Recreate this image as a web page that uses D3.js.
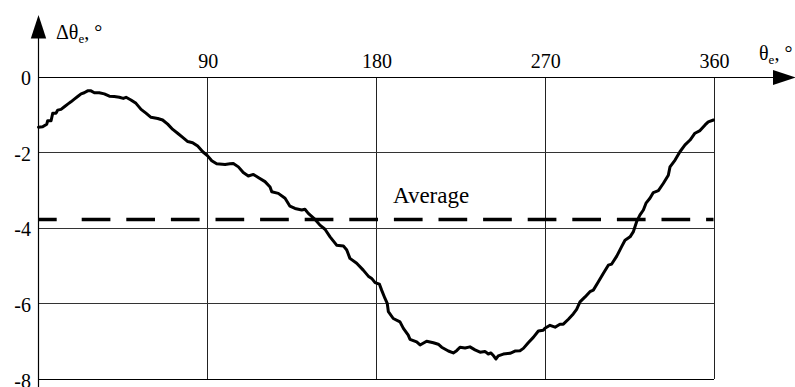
<!DOCTYPE html>
<html>
<head>
<meta charset="utf-8">
<script src="https://cdn.jsdelivr.net/npm/d3@7"></script>
<style>
  html, body { margin: 0; padding: 0; background: #fff; }
  svg { display: block; }
</style>
</head>
<body>
<svg id="chart" width="795" height="387"></svg>
<script>
// Electrical angle error over one electrical period
const thetaDeg = [0, 2.2, 4.4, 4.9, 6.7, 7.6, 9.3, 10.2, 12.0, 13.8, 15.6, 17.3, 19.1, 20.9, 22.7, 24.4, 26.2, 28.0, 29.8, 32.4,
  35.1, 37.8, 40.4, 43.1, 45.2, 46.7, 49.3, 52.0, 54.7, 57.3, 60.0, 63.6, 66.2, 68.9, 71.6, 74.2, 76.9, 79.6, 82.2, 84.9,
  87.6, 90.2, 92.4, 95.0, 99.5, 102.1, 103.9, 106.6, 109.2, 111.9, 114.6, 117.2, 120.8, 123.5, 124.4, 127.9, 131.5, 134.1, 136.8, 140.4,
  142.1, 143.9, 147.5, 150.1, 152.8, 155.5, 159.0, 162.6, 164.4, 166.1, 169.7, 173.2, 175.9, 177.7, 179.5, 181.8, 183.0, 184.8, 186.0, 186.6,
  189.2, 192.8, 194.6, 197.2, 198.1, 201.7, 203.5, 207.0, 210.6, 213.2, 215.0, 218.6, 221.2, 223.0, 224.8, 227.5, 230.1, 232.8, 235.5, 238.1,
  239.9, 241.2, 242.6, 244.0, 245.2, 247.9, 251.5, 254.1, 256.8, 258.6, 261.2, 263.9, 266.6, 269.2, 270.1, 272.8, 275.5, 278.1, 279.9, 282.6,
  285.2, 287.0, 288.8, 291.5, 294.1, 295.9, 298.6, 301.2, 303.9, 305.7, 308.4, 311.0, 312.8, 315.5, 317.2, 319.0, 320.8, 322.6, 324.0, 326.1,
  327.9, 330.6, 333.2, 335.9, 336.8, 339.5, 342.1, 344.8, 347.5, 350.1, 352.8, 355.5, 357.2, 360];
const deltaDeg = [-1.34, -1.33, -1.26, -1.17, -1.17, -0.97, -0.97, -0.89, -0.87, -0.80, -0.73, -0.67, -0.60, -0.53, -0.46, -0.43, -0.38, -0.38, -0.43, -0.43,
  -0.46, -0.52, -0.53, -0.55, -0.58, -0.55, -0.62, -0.71, -0.87, -0.97, -1.08, -1.11, -1.15, -1.26, -1.40, -1.50, -1.61, -1.72, -1.75, -1.84,
  -1.99, -2.10, -2.23, -2.31, -2.33, -2.31, -2.30, -2.39, -2.54, -2.63, -2.59, -2.67, -2.78, -2.92, -3.05, -3.09, -3.22, -3.43, -3.49, -3.53,
  -3.51, -3.62, -3.78, -3.93, -4.04, -4.24, -4.46, -4.48, -4.59, -4.81, -4.94, -5.12, -5.28, -5.34, -5.45, -5.49, -5.65, -5.87, -6.00, -6.22,
  -6.40, -6.49, -6.66, -6.84, -6.95, -7.02, -7.10, -7.00, -7.04, -7.08, -7.16, -7.26, -7.31, -7.25, -7.16, -7.18, -7.15, -7.23, -7.29, -7.27,
  -7.34, -7.31, -7.38, -7.47, -7.39, -7.34, -7.32, -7.26, -7.25, -7.19, -7.04, -6.90, -6.73, -6.71, -6.66, -6.58, -6.63, -6.55, -6.55, -6.42,
  -6.28, -6.16, -5.96, -5.83, -5.69, -5.65, -5.43, -5.21, -4.99, -4.96, -4.75, -4.50, -4.33, -4.24, -4.11, -3.84, -3.66, -3.53, -3.35, -3.22,
  -3.07, -3.02, -2.83, -2.61, -2.39, -2.21, -1.99, -1.81, -1.68, -1.50, -1.43, -1.28, -1.20, -1.15];
const averageValue = -3.78;
const averageLabel = "Average";
const xTicks = [90, 180, 270, 360];
const yTicks = [0, -2, -4, -6, -8];

const FONT = '"Liberation Serif"';

// make sure the serif face is resolved before any label is laid out
const warm = document.createElement("canvas").getContext("2d");
[20, 23, 13].forEach(s => { warm.font = `${s}px ${FONT}`; warm.measureText("Average 0123456789 Δθe, °-"); });

const svg = d3.select("#chart");
const x = d3.scaleLinear().domain([0, 360]).range([38.5, 713.5]);
const y = d3.scaleLinear().domain([-8, 0]).range([379, 76.5]);

// grid: vertical lines at x ticks, horizontal lines at y ticks (below zero)
const grid = svg.append("g").attr("shape-rendering", "crispEdges");
grid.selectAll("line.v").data(xTicks).join("line")
  .attr("x1", d => Math.round(x(d)) + 0.5).attr("x2", d => Math.round(x(d)) + 0.5)
  .attr("y1", y(0)).attr("y2", y(-8))
  .attr("stroke", "#222").attr("stroke-width", 1);
grid.selectAll("line.h").data(yTicks.filter(d => d < 0)).join("line")
  .attr("x1", x(0)).attr("x2", x(360))
  .attr("y1", d => Math.round(y(d)) + 0.5).attr("y2", d => Math.round(y(d)) + 0.5)
  .attr("stroke", d => d === -8 ? "#000" : "#333").attr("stroke-width", 1);

// axes with arrow heads
const axisG = svg.append("g");
const x0 = Math.round(x(0)) - 0.5;
const yZero = Math.round(y(0)) + 0.5;
axisG.append("line").attr("x1", x0).attr("x2", x0).attr("y1", y(-8) + 8).attr("y2", 30)
  .attr("stroke", "#000").attr("stroke-width", 1.2);
axisG.append("line").attr("x1", x0).attr("x2", 780).attr("y1", yZero).attr("y2", yZero)
  .attr("stroke", "#000").attr("stroke-width", 1.2);
axisG.append("path")
  .attr("d", `M${x0},15 L${x0 + 7.7},38.5 L${x0 - 7.7},38.5 Z`).attr("fill", "#000");
axisG.append("path")
  .attr("d", `M796,${yZero} L773,${yZero - 7.5} L773,${yZero + 7.5} Z`).attr("fill", "#000");

// tick labels
svg.append("g").selectAll("text").data(xTicks).join("text")
  .attr("x", d => x(d) + 1).attr("y", 68)
  .attr("text-anchor", "middle")
  .style("font-family", FONT).style("font-size", "20px")
  .text(d => d);
svg.append("g").selectAll("text").data(yTicks).join("text")
  .attr("x", 31).attr("y", d => y(d) + 8.5)
  .attr("text-anchor", "end")
  .style("font-family", FONT).style("font-size", "20px")
  .text(d => String(d));

// axis titles
function axisTitle(tx, ty, sym) {
  const t = svg.append("text").attr("x", tx).attr("y", ty)
    .style("font-family", FONT).style("font-size", "20px");
  t.append("tspan").text(sym);
  t.append("tspan").style("font-size", "13px").attr("dy", 4).text("e");
  t.append("tspan").attr("dy", -4).text(", °");
}
axisTitle(56, 39, "Δθ");
axisTitle(759, 60, "θ");

// average level, dashed
const dashPattern = [18.2, 25];
for (let i = 0; i < 20; i++) dashPattern.push(28.7, 15.9);
svg.append("line")
  .attr("x1", x(0)).attr("x2", x(360))
  .attr("y1", y(averageValue)).attr("y2", y(averageValue))
  .attr("stroke", "#000").attr("stroke-width", 3.6)
  .attr("stroke-dasharray", dashPattern.join(","));
svg.append("text")
  .attr("x", 393).attr("y", 202.5)
  .style("font-family", FONT).style("font-size", "23px")
  .text(averageLabel);

// measured curve
const pts = thetaDeg.map((t, i) => [t, deltaDeg[i]]);
svg.append("path").datum(pts)
  .attr("d", d3.line().x(d => x(d[0])).y(d => y(d[1])))
  .attr("fill", "none").attr("stroke", "#000").attr("stroke-width", 3)
  .attr("stroke-linejoin", "round").attr("stroke-linecap", "round");
</script>
</body>
</html>
